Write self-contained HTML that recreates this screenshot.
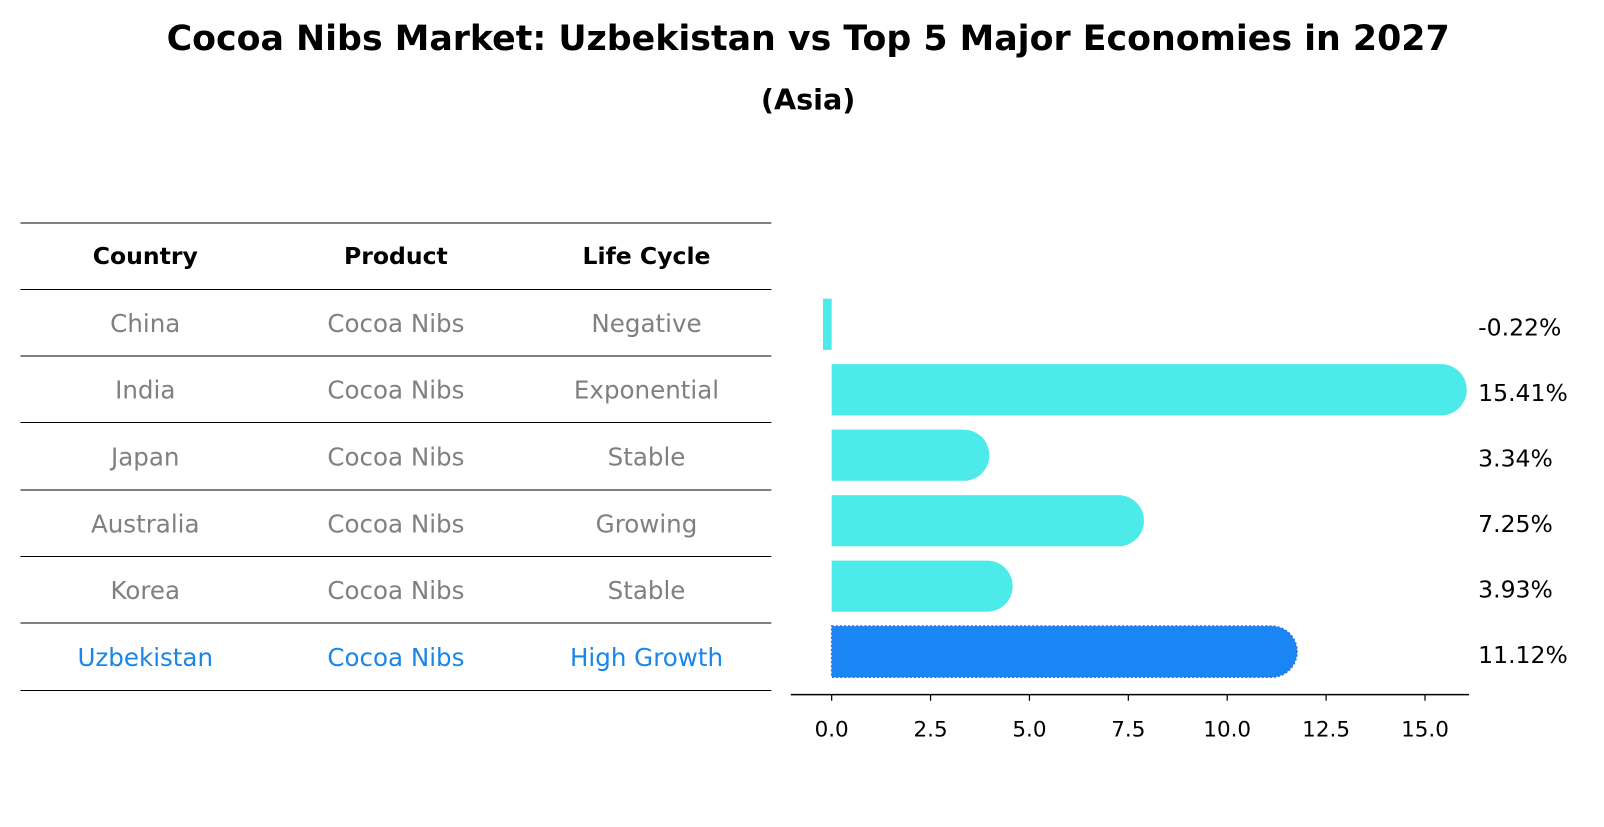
<!DOCTYPE html>
<html><head><meta charset="utf-8"><style>
body{margin:0;background:#fff;font-family:"DejaVu Sans","Liberation Sans",sans-serif;}
svg text{font-family:"DejaVu Sans","Liberation Sans",sans-serif;}
</style></head><body>
<svg id="chart" width="1604" height="823" viewBox="0 0 1568 804.5" preserveAspectRatio="none" xmlns="http://www.w3.org/2000/svg">
<text x="790" y="49" text-anchor="middle" font-size="34" font-weight="bold">Cocoa Nibs Market: Uzbekistan vs Top 5 Major Economies in 2027</text>
<text x="790" y="107" text-anchor="middle" font-size="28" font-weight="bold">(Asia)</text>
<g id="table"></g>
<g id="bars"></g>
</svg>
<script>
const countries=["China","India","Japan","Australia","Korea","Uzbekistan"];
const products=["Cocoa Nibs","Cocoa Nibs","Cocoa Nibs","Cocoa Nibs","Cocoa Nibs","Cocoa Nibs"];
const lifeCycles=["Negative","Exponential","Stable","Growing","Stable","High Growth"];
const values=[-0.22,15.41,3.34,7.25,3.93,11.12];
const tickValues=[0,2.5,5,7.5,10,12.5,15];
const NS="http://www.w3.org/2000/svg";
function mk(tag,attrs,parent){const e=document.createElementNS(NS,tag);for(const k in attrs)e.setAttribute(k,attrs[k]);parent.appendChild(e);return e;}
const table=document.getElementById('table');
const lineYs=[218,283,348,413,479,544,609,675];
lineYs.forEach(y=>{const l=mk('line',{x1:20,x2:754,y1:y,y2:y,stroke:'#000','stroke-width':1},table);

});
const colX=[142,387,632];
["Country","Product","Life Cycle"].forEach((h,i)=>{const t=mk('text',{x:colX[i],y:258,'text-anchor':'middle','font-size':23,'font-weight':'bold'},table);t.textContent=h;

});
countries.forEach((c,i)=>{const y=(lineYs[i+1]+lineYs[i+2])/2+9;const col=i===5?'#1a86e8':'#808080';
[c,products[i],lifeCycles[i]].forEach((v,j)=>{const t=mk('text',{x:colX[j],y:y,'text-anchor':'middle','font-size':24,fill:col},table);t.textContent=v;

});});
const bars=document.getElementById('bars');
const x0=813,scale=580/15;
const xs=v=>x0+v*scale;
const rowY=i=>317+i*64;
const h=50,r=25;
values.forEach((v,i)=>{const cy=rowY(i),top=cy-h/2;let el;
const fill=i===5?'#1a86f5':'#4ceae8';
if(v>=0){const xe=xs(v);
el=mk('path',{d:`M${x0},${top} H${xe} A${r},${r} 0 0 1 ${xe},${top+h} H${x0} Z`,fill:fill},bars);
if(i===5){el.setAttribute('stroke','#3a6fd0');el.setAttribute('stroke-width','1.5');el.setAttribute('stroke-dasharray','2,2');}
}else{el=mk('rect',{x:xs(v),y:top,width:x0-xs(v),height:h,fill:fill},bars);}


const t=mk('text',{x:1445,y:cy+11,'font-size':23,fill:'#000'},bars);t.textContent=v.toFixed(2)+'%';

});
const ax=mk('line',{x1:773,x2:1436,y1:679,y2:679,stroke:'#000','stroke-width':1.5},bars);


tickValues.forEach(v=>{const tk=mk('line',{x1:xs(v),x2:xs(v),y1:679,y2:685,stroke:'#000','stroke-width':1.2},bars);


const t=mk('text',{x:xs(v),y:720,'text-anchor':'middle','font-size':21},bars);t.textContent=v.toFixed(1);

});
</script>
</body></html>
